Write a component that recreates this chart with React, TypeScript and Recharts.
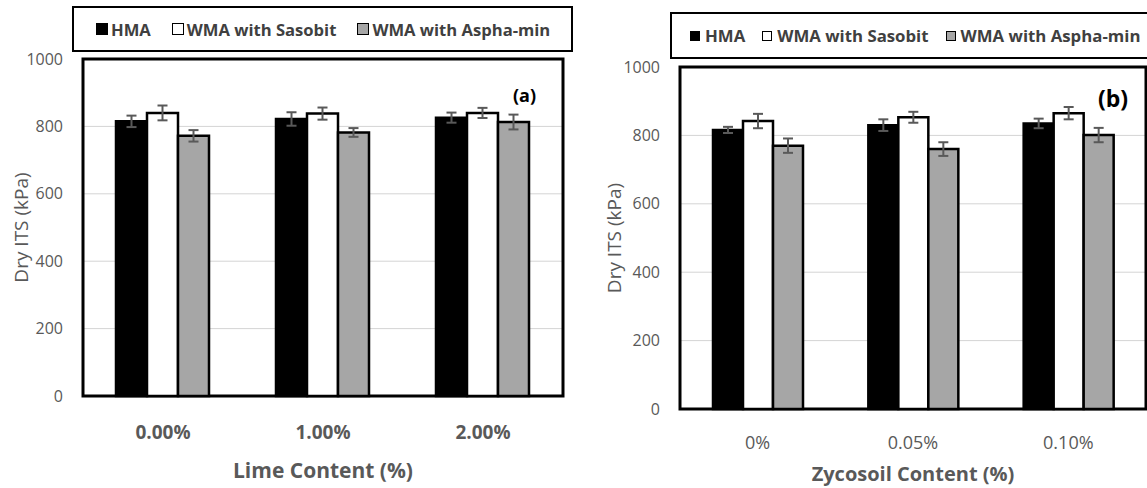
import React from 'react';
import { BarChart, Bar, XAxis, YAxis, CartesianGrid, ErrorBar, ReferenceArea, Label } from 'recharts';

const seriesNames = ['HMA', 'WMA with Sasobit', 'WMA with Aspha-min'];
const seriesKeys = ['hma', 'sas', 'asp'];
const seriesFills = ['#000000', '#ffffff', '#a6a6a6'];

const limeCategories = ['0.00%', '1.00%', '2.00%'];
const limeHMA = [815, 822, 826];
const limeHMAErr = [17, 20, 15];
const limeSasobit = [840, 838, 840];
const limeSasobitErr = [22, 18, 15];
const limeAsphamin = [772, 782, 813];
const limeAsphaminErr = [17, 13, 22];

const zycoCategories = ['0%', '0.05%', '0.10%'];
const zycoHMA = [816, 830, 835];
const zycoHMAErr = [9, 17, 14];
const zycoSasobit = [842, 853, 865];
const zycoSasobitErr = [21, 16, 18];
const zycoAsphamin = [770, 760, 801];
const zycoAsphaminErr = [21, 20, 21];

const yTicks = [0, 200, 400, 600, 800, 1000];
const FONT = '"Open Sans", sans-serif';

type PanelProps = {
  categories: string[];
  values: number[][];
  errors: number[][];
  width: number;
  height: number;
  top: number;
  right: number;
  yAxisWidth: number;
  xAxisHeight: number;
  xTickMargin: number;
  xTickSize: number;
  xTickBold: boolean;
  xTitle: string;
  xTitleOffset: number;
  xTitleSize: number;
  yTitleOffset: number;
};

function Panel(p: PanelProps) {
  const data = p.categories.map((c, i) => {
    const row: any = { cat: c };
    seriesKeys.forEach((k, s) => {
      row[k] = p.values[s][i];
      row[k + 'Err'] = p.errors[s][i];
    });
    return row;
  });
  return (
    <BarChart
      width={p.width}
      height={p.height}
      data={data}
      margin={{ top: p.top, right: p.right, left: 0, bottom: 0 }}
      barCategoryGap={33}
      barGap={0}
    >
      <CartesianGrid vertical={false} stroke="#d4d4d4" strokeWidth={1} />
      <XAxis
        dataKey="cat"
        height={p.xAxisHeight}
        axisLine={false}
        tickLine={false}
        tickSize={0}
        tickMargin={p.xTickMargin}
        interval={0}
        tick={{ fill: '#595959', fontSize: p.xTickSize, fontWeight: p.xTickBold ? 700 : 400, fontFamily: FONT }}
      >
        <Label
          value={p.xTitle}
          position="insideBottom"
          offset={p.xTitleOffset}
          fill="#595959"
          style={{ fontSize: p.xTitleSize, fontWeight: 700, fontFamily: FONT, fill: '#595959' }}
        />
      </XAxis>
      <YAxis
        width={p.yAxisWidth}
        domain={[0, 1000]}
        ticks={yTicks}
        interval={0}
        axisLine={false}
        tickLine={false}
        tickSize={0}
        tickMargin={20}
        tick={{ fill: '#595959', fontSize: 16, fontFamily: FONT }}
      >
        <Label
          value="Dry ITS (kPa)"
          angle={-90}
          position="insideLeft"
          offset={p.yTitleOffset}
          fill="#595959"
          style={{ textAnchor: 'middle', fontSize: 19, fontFamily: FONT, fill: '#595959' }}
        />
      </YAxis>
      {seriesKeys.map((k, s) => (
        <Bar
          key={k}
          dataKey={k}
          name={seriesNames[s]}
          fill={seriesFills[s]}
          stroke="#000000"
          strokeWidth={2.5}
          isAnimationActive={false}
        >
          <ErrorBar dataKey={k + 'Err'} direction="y" width={5} stroke="#595959" strokeWidth={2} />
        </Bar>
      ))}
      <ReferenceArea y1={0} y2={1000} fill="none" fillOpacity={0} stroke="#000000" strokeWidth={3} ifOverflow="visible" />
    </BarChart>
  );
}

function LegendBox(props: { left: number; top: number; width: number; height: number; fontSize: number; square: number; padLeft: number; gap: number; textGap: number }) {
  return (
    <div
      style={{
        position: 'absolute',
        left: props.left,
        top: props.top,
        width: props.width,
        height: props.height,
        border: '2px solid #000',
        boxSizing: 'border-box',
        display: 'flex',
        alignItems: 'center',
        paddingLeft: props.padLeft,
        background: '#fff',
        fontFamily: FONT,
        overflow: 'hidden',
      }}
    >
      {seriesNames.map((n, s) => (
        <div key={n} style={{ display: 'flex', alignItems: 'center', marginRight: props.gap, flexShrink: 0 }}>
          <div
            style={{
              width: props.square,
              height: props.square,
              background: seriesFills[s],
              border: '1.5px solid #000',
              boxSizing: 'border-box',
              marginRight: props.textGap,
            }}
          />
          <span style={{ fontSize: props.fontSize, fontWeight: 700, color: '#404040', whiteSpace: 'nowrap' }}>{n}</span>
        </div>
      ))}
    </div>
  );
}

export default function App() {
  return (
    <div style={{ position: 'absolute', left: 0, top: 0, width: 1147, height: 488, background: '#fff', fontFamily: FONT, overflow: 'hidden' }}>
      <div style={{ position: 'absolute', left: 0, top: 0 }}>
        <Panel
          categories={limeCategories}
          values={[limeHMA, limeSasobit, limeAsphamin]}
          errors={[limeHMAErr, limeSasobitErr, limeAsphaminErr]}
          width={580}
          height={488}
          top={59}
          right={17}
          yAxisWidth={83}
          xAxisHeight={92}
          xTickMargin={30}
          xTickSize={19}
          xTickBold={true}
          xTitle="Lime Content (%)"
          xTitleOffset={10}
          xTitleSize={21}
          yTitleOffset={21}
        />
      </div>
      <div style={{ position: 'absolute', left: 580, top: 0 }}>
        <Panel
          categories={zycoCategories}
          values={[zycoHMA, zycoSasobit, zycoAsphamin]}
          errors={[zycoHMAErr, zycoSasobitErr, zycoAsphaminErr]}
          width={567}
          height={488}
          top={67}
          right={1}
          yAxisWidth={100}
          xAxisHeight={79}
          xTickMargin={27}
          xTickSize={18}
          xTickBold={false}
          xTitle="Zycosoil Content (%)"
          xTitleOffset={7}
          xTitleSize={20}
          yTitleOffset={34}
        />
      </div>
      <LegendBox left={72} top={6} width={501} height={46} fontSize={16.6} square={12} padLeft={22} gap={21} textGap={3} />
      <LegendBox left={670} top={12} width={482} height={47} fontSize={16.8} square={10} padLeft={18} gap={17} textGap={5} />
      <div style={{ position: 'absolute', left: 513, top: 83, fontSize: 18, fontWeight: 700, color: '#000', fontFamily: FONT }}>(a)</div>
      <div style={{ position: 'absolute', left: 1098, top: 82, fontSize: 23, fontWeight: 700, color: '#000', fontFamily: FONT }}>(b)</div>
    </div>
  );
}
